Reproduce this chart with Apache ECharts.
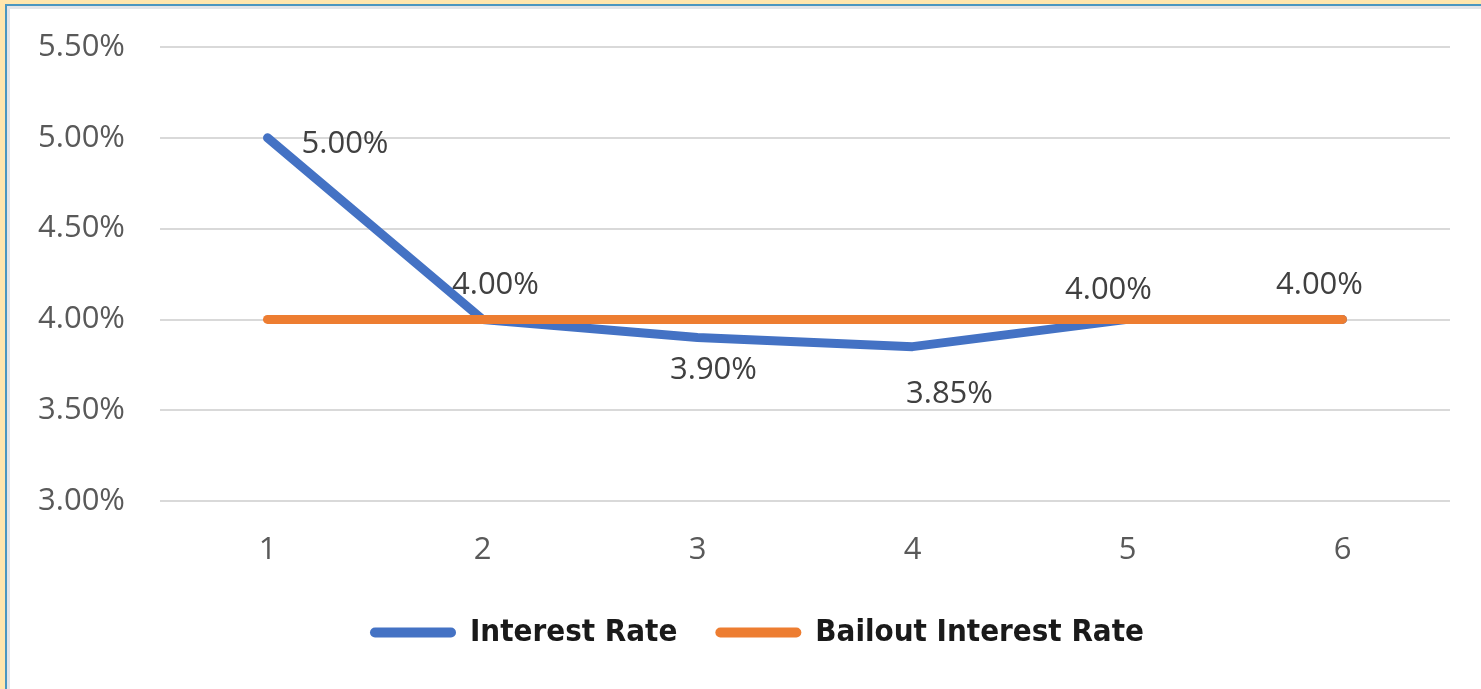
<!DOCTYPE html>
<html>
<head>
<meta charset="utf-8">
<script src="https://cdn.jsdelivr.net/npm/echarts@6/dist/echarts.min.js"></script>
<style>
  html, body { margin: 0; padding: 0; width: 1481px; height: 689px; background: #FFE6AD; overflow: hidden; }
  .frame {
    position: absolute; left: 5px; top: 4px; right: 0; bottom: 0;
    border-left: 2px solid #4A96C0; border-top: 2px solid #4A96C0; background: #fff;
  }
  .inner { position: absolute; left: 0; top: 0; right: 0; bottom: 0; border-left: 3px solid #E3E5E9; border-top: 3px solid #E3E5E9; }
  #chart { position: absolute; left: 0; top: 0; right: 0; bottom: 0; }
</style>
</head>
<body>
<div class="frame"><div class="inner"><div id="chart"></div></div></div>
<script>
// data
const categories = ['1', '2', '3', '4', '5', '6']
const interestRate = [5.00, 4.00, 3.90, 3.85, 4.00, 4.00]
const bailoutRate = [4.00, 4.00, 4.00, 4.00, 4.00, 4.00]
const seriesNames = ['Interest Rate', 'Bailout Interest Rate']

const tickFont = '"Open Sans", "Noto Sans", sans-serif'

// label placement per point (styling only)
const labelStyle = [
  { position: 'right', distance: 34, offset: [0, 6] },
  { position: 'top', distance: 19, offset: [13, 0] },
  { position: 'bottom', distance: 17, offset: [16, 0] },
  { position: 'bottom', distance: 32, offset: [37, 0] },
  { position: 'top', distance: 14, offset: [-19, 0] },
  { position: 'top', distance: 19, offset: [-23, 0] },
]

const chart = echarts.init(document.getElementById('chart'))

const capsule = 'path://M5,0 L81,0 A5,5 0 0 1 81,10 L5,10 A5,5 0 0 1 5,0 Z'

chart.setOption({
  backgroundColor: '#fff',
  animation: false,
  grid: { left: 150, right: 31, top: 38, bottom: 188 },
  legend: {
    left: 355,
    top: 603,
    itemWidth: 86,
    itemHeight: 10,
    itemGap: 38,
    icon: capsule,
    data: seriesNames,
    textStyle: {
      fontFamily: '"Liberation Sans Narrow", "DejaVu Sans Condensed", sans-serif',
      fontWeight: 'bold',
      fontSize: 31,
      color: '#1a1a1a',
      padding: [0, 0, 0, 9],
    },
  },
  xAxis: {
    type: 'category',
    data: categories,
    boundaryGap: true,
    axisLine: { show: false },
    axisTick: { show: false },
    axisLabel: { margin: 34, fontSize: 31, color: '#595959', fontFamily: tickFont },
  },
  yAxis: {
    type: 'value',
    min: 3.0,
    max: 5.5,
    interval: 0.5,
    axisLine: { show: false },
    axisTick: { show: false },
    splitLine: { lineStyle: { color: '#D9D9D9', width: 2 } },
    axisLabel: {
      margin: 35,
      fontSize: 31,
      color: '#595959',
      fontFamily: tickFont,
      formatter: v => v.toFixed(2) + '%',
    },
  },
  series: [
    {
      name: seriesNames[0],
      type: 'line',
      symbol: 'circle',
      symbolSize: 0.1,
      itemStyle: { color: '#4472C4' },
      lineStyle: { color: '#4472C4', width: 9, cap: 'round', join: 'round' },
      data: interestRate.map((v, i) => ({
        value: v,
        label: {
          show: true,
          position: labelStyle[i].position,
          distance: labelStyle[i].distance,
          offset: labelStyle[i].offset,
          formatter: p => p.value.toFixed(2) + '%',
          fontSize: 31,
          color: '#404040',
          fontFamily: tickFont,
        },
      })),
    },
    {
      name: seriesNames[1],
      type: 'line',
      symbol: 'none',
      itemStyle: { color: '#ED7D31' },
      lineStyle: { color: '#ED7D31', width: 9, cap: 'round', join: 'round' },
      data: bailoutRate,
    },
  ],
})
</script>
</body>
</html>
